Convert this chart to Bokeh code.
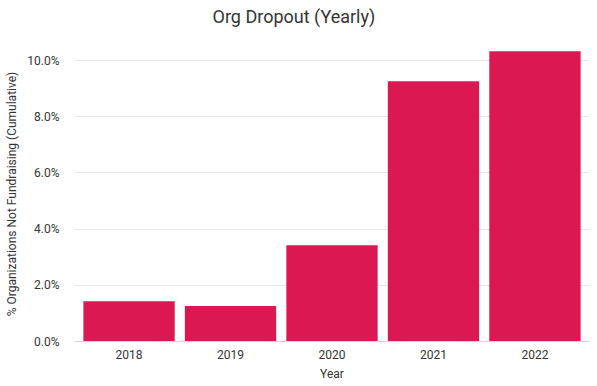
from bokeh.plotting import figure
from bokeh.models import FactorRange, Range1d, NumeralTickFormatter, FixedTicker, ColumnDataSource, Title
from bokeh.embed import file_html
from bokeh.resources import INLINE

years = ["2018", "2019", "2020", "2021", "2022"]
dropout = [0.0143, 0.0126, 0.0343, 0.0926, 0.1033]
y_ticks = [0.0, 0.02, 0.04, 0.06, 0.08, 0.10]
title_text = "Org Dropout (Yearly)"
x_label = "Year"
y_label = "% Organizations Not Fundraising (Cumulative)"

BAR = "#dc1853"
TXT = "#333333"
FONT = "Roboto"

src = ColumnDataSource(data=dict(year=years, value=dropout))

p = figure(width=597, height=386,
           x_range=FactorRange(factors=years, range_padding=0.015),
           y_range=Range1d(0, 0.105),
           output_backend="svg", toolbar_location=None,
           min_border_left=74, min_border_right=8,
           min_border_top=46, min_border_bottom=45)

# spacer between the title and the plot frame
p.add_layout(Title(text=" ", text_font_size="1px", standoff=14), "above")

p.title.text = title_text
p.title.align = "left"
p.title.offset = 138
p.title.standoff = 6
p.title.text_font = FONT
p.title.text_font_size = "18px"
p.title.text_font_style = "normal"
p.title.text_color = TXT
p.outline_line_color = None
p.background_fill_color = "white"
p.border_fill_color = "white"

p.vbar(x="year", top="value", width=0.9, source=src, fill_color=BAR, line_color=None)

ticker = FixedTicker(ticks=y_ticks)
p.yaxis.ticker = ticker
p.ygrid.ticker = ticker
p.yaxis.formatter = NumeralTickFormatter(format="0.0%")
p.yaxis.axis_line_color = None
p.yaxis.major_tick_line_color = None
p.yaxis.minor_tick_line_color = None
p.yaxis.major_tick_out = 0
p.yaxis.major_tick_in = 0
p.yaxis.major_label_standoff = 15
p.yaxis.axis_label = y_label
p.yaxis.axis_label_standoff = 5

p.xaxis.axis_line_color = "#ccd6eb"
p.xaxis.axis_line_width = 1
p.xaxis.major_tick_line_color = None
p.xaxis.minor_tick_line_color = None
p.xaxis.major_tick_out = 0
p.xaxis.major_tick_in = 0
p.xaxis.major_label_standoff = 8
p.xaxis.axis_label = x_label
p.xaxis.axis_label_standoff = 5

for ax in (p.xaxis, p.yaxis):
    ax.major_label_text_font = FONT
    ax.major_label_text_font_size = "12px"
    ax.major_label_text_color = TXT
    ax.axis_label_text_font = FONT
    ax.axis_label_text_font_size = "12px"
    ax.axis_label_text_font_style = "normal"
    ax.axis_label_text_color = TXT

p.xgrid.grid_line_color = None
p.ygrid.grid_line_color = "#e6e6e6"
p.ygrid.grid_line_width = 1

open("out.html", "w").write(file_html(p, INLINE))
